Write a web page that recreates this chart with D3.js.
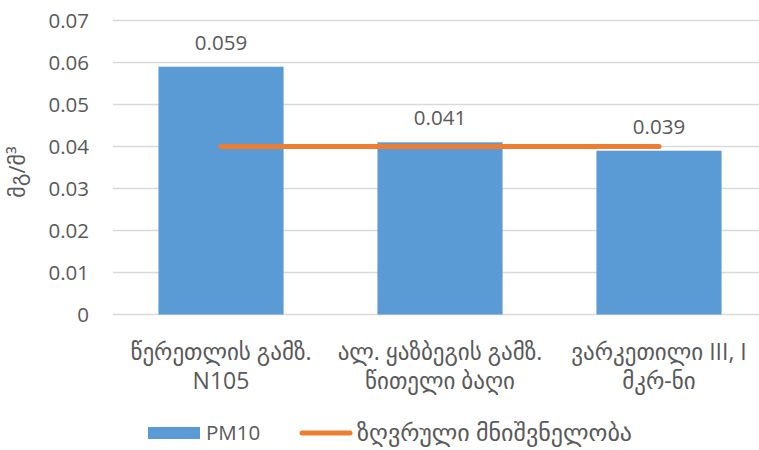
<!DOCTYPE html>
<html><head><meta charset="utf-8">
<script src="https://cdn.jsdelivr.net/npm/d3@7"></script>
<style>body{margin:0;background:#fff}svg{display:block}text{font-family:"Open Sans","DejaVu Sans",sans-serif;fill:#595959}</style>
</head><body><svg id="c" width="759" height="450"></svg>
<script>
const categories = [["წერეთლის გამზ.", "N105"], ["ალ. ყაზბეგის გამზ.", "წითელი ბაღი"], ["ვარკეთილი III, I", "მკრ-ნი"]];
const pm10 = [0.059, 0.041, 0.039];
const limit = [0.04, 0.04, 0.04];
const yTicks = [0, 0.01, 0.02, 0.03, 0.04, 0.05, 0.06, 0.07];
const seriesNames = ["PM10", "ზღვრული მნიშვნელობა"];
const yTitle = "მგ/მ³";

const svg = d3.select("#c");
const x = d3.scaleBand().domain(d3.range(categories.length)).range([111.5, 768.5]).paddingInner(0.75/1.75).paddingOuter(0.75/3.5);
const y = d3.scaleLinear().domain([0, 0.07]).range([314.5, 20.5]);
const cx = i => x(i) + x.bandwidth()/2;

// gridlines
svg.append("g").selectAll("line").data(yTicks).join("line")
  .attr("x1", 113).attr("x2", 759).attr("y1", d => y(d)).attr("y2", d => y(d))
  .attr("stroke", "#d9d9d9").attr("stroke-width", 1.3);

// y tick labels
svg.append("g").selectAll("text").data(yTicks).join("text")
  .attr("x", 89).attr("y", d => y(d)).attr("dy", "0.35em").attr("text-anchor", "end")
  .attr("font-size", 20.5).text(d => d === 0 ? "0" : d.toFixed(2));

// y title
svg.append("text").attr("transform", "translate(25,172) rotate(-90)").attr("text-anchor", "middle")
  .attr("font-size", 22).text(yTitle);

// bars
svg.append("g").selectAll("rect").data(pm10).join("rect")
  .attr("x", (d,i) => x(i)).attr("width", x.bandwidth())
  .attr("y", d => y(d)).attr("height", d => y(0) - y(d)).attr("fill", "#5b9bd5");

// value labels
svg.append("g").selectAll("text").data(pm10).join("text")
  .attr("x", (d,i) => cx(i)).attr("y", d => y(d) - 17).attr("text-anchor", "middle")
  .attr("font-size", 20.5).attr("fill", "#404040").text(d => d.toFixed(3));

// limit line
const line = d3.line().x((d,i) => cx(i)).y(d => y(d));
svg.append("path").datum(limit).attr("d", line).attr("fill", "none")
  .attr("stroke", "#ed7d31").attr("stroke-width", 5).attr("stroke-linecap", "round");

// category labels
const cl = svg.append("g").selectAll("text").data(categories).join("text")
  .attr("text-anchor", "middle").attr("font-size", 23);
cl.selectAll("tspan").data((d,i) => d.map(s => ({s, i}))).join("tspan")
  .attr("x", d => cx(d.i)).attr("y", (d,j) => 360 + j*29).text(d => d.s);

// legend
const lg = svg.append("g");
lg.append("rect").attr("x", 148).attr("y", 427).attr("width", 52).attr("height", 12).attr("fill", "#5b9bd5");
lg.append("text").attr("x", 206).attr("y", 433).attr("dy", "0.35em").attr("font-size", 20.5).text(seriesNames[0]);
lg.append("line").attr("x1", 302).attr("x2", 350).attr("y1", 433).attr("y2", 433)
  .attr("stroke", "#ed7d31").attr("stroke-width", 5).attr("stroke-linecap", "round");
lg.append("text").attr("x", 357).attr("y", 433).attr("dy", "0.35em").attr("font-size", 24).text(seriesNames[1]);
</script></body></html>
